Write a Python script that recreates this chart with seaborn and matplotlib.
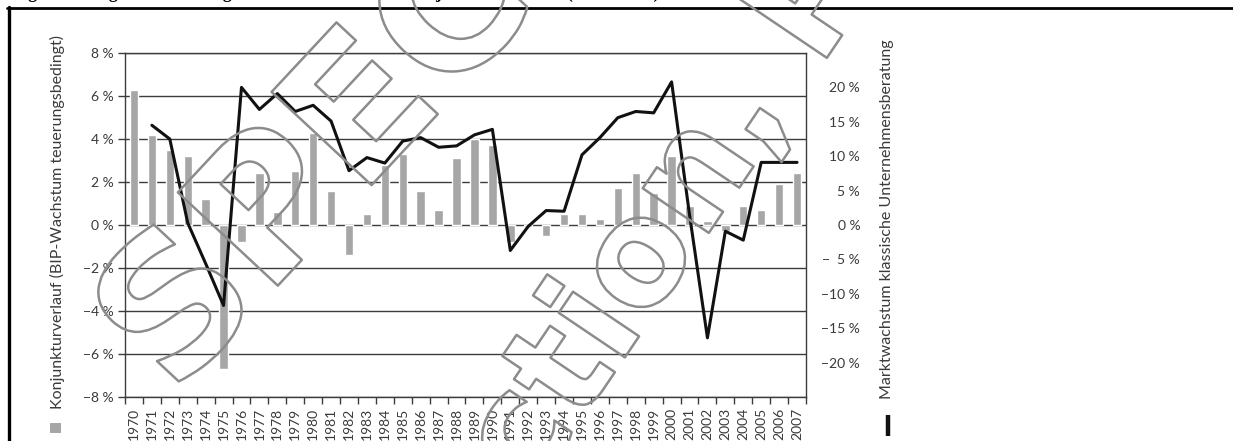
import numpy as np
import pandas as pd
import matplotlib
matplotlib.use("Agg")
import matplotlib.pyplot as plt
import seaborn as sns
from matplotlib import patheffects
from matplotlib.lines import Line2D
from matplotlib.patches import Rectangle

# --- data -----------------------------------------------------------------
years = list(range(1970, 2008))
gdp_growth = [6.3, 4.2, 3.5, 3.2, 1.2, -6.7, -0.8, 2.4, 0.6, 2.5,
              4.3, 1.6, -1.4, 0.5, 2.8, 3.3, 1.6, 0.7, 3.1, 4.0,
              3.7, -0.8, -0.1, -0.5, 0.5, 0.5, 0.3, 1.7, 2.4, 1.5,
              3.2, 0.9, 0.2, -0.3, 0.9, 0.7, 1.9, 2.4]

market_years = list(range(1971, 2008))
market_growth = [14.5, 12.5, 0.3, -5.6, -11.7, 20.0, 16.8, 19.1, 16.5, 17.4,
                 15.1, 7.9, 9.8, 9.0, 12.2, 12.7, 11.3, 11.5, 13.1, 13.9,
                 -3.7, -0.2, 2.1, 2.0, 10.2, 12.7, 15.6, 16.5, 16.3, 20.8,
                 1.5, -16.4, -0.9, -2.2, 9.1, 9.1, 9.1]

left_ticks = [-8, -6, -4, -2, 0, 2, 4, 6, 8]
left_labels = ["−8 %", "−6 %", "−4 %", "−2 %", "0 %", "2 %", "4 %", "6 %", "8 %"]
right_ticks = [-20, -15, -10, -5, 0, 5, 10, 15, 20]
right_labels = ["−20 %", "−15 %", "−10 %", "−  5 %", "0 %", "5 %", "10 %", "15 %", "20 %"]

title = "Figure 1: Gegenüberstellung Marktwachstum und Konjunktur Schweiz (1970–2007)"
left_title = "Konjunkturverlauf (BIP-Wachstum teuerungsbedingt)"
right_title = "Marktwachstum klassische Unternehmensberatung"

# --- style ----------------------------------------------------------------
sns.set_theme(style="white")
plt.rcParams["font.family"] = ["Lato", "DejaVu Sans"]
text_col = "#3a3a3a"
bar_col = "#a6a6a6"
grid_col = "#3c3c3c"

W, H = 1233, 441
fig = plt.figure(figsize=(W / 100, H / 100), dpi=100)
fig.patch.set_facecolor("white")

ax_l, ax_r, ax_t, ax_b = 125, 806, 53, 397
ax = fig.add_axes([ax_l / W, 1 - ax_b / H, (ax_r - ax_l) / W, (ax_b - ax_t) / H])

df_bar = pd.DataFrame({"year": [str(y) for y in years], "gdp": gdp_growth})
sns.barplot(data=df_bar, x="year", y="gdp", color=bar_col, saturation=1,
            width=0.47, ax=ax, zorder=2)

ax.set_ylim(-8, 8)
ax.set_xlim(-0.5, len(years) - 0.5)
ax.set_yticks(left_ticks)
ax.set_yticklabels(left_labels)
for y in left_ticks:
    ax.axhline(y, color=grid_col, lw=1.0, zorder=1)

ax.set_xticks(range(len(years)))
ax.set_xticklabels([str(y) for y in years], rotation=90)
ax.set_xticks(np.arange(-0.5, len(years)), minor=True)
ax.tick_params(axis="x", which="major", length=0, pad=8, labelsize=10,
               labelcolor=text_col)
ax.tick_params(axis="x", which="minor", length=5, width=1, color=grid_col,
               direction="out", bottom=True)
ax.tick_params(axis="y", which="major", length=5, width=1, color=grid_col,
               direction="out", pad=3, labelsize=10, labelcolor=text_col,
               left=True, right=True, labelright=False)
ax.set_xlabel("")
ax.set_ylabel("")
for side in ["left", "right", "bottom", "top"]:
    ax.spines[side].set_visible(True)
    ax.spines[side].set_color(grid_col)
    ax.spines[side].set_linewidth(1.0)

# market growth line on the secondary axis
ax2 = ax.twinx()
df_line = pd.DataFrame({"pos": [y - years[0] for y in market_years],
                        "growth": market_growth})
sns.lineplot(data=df_line, x="pos", y="growth", color="#111111", lw=2.2,
             ax=ax2, zorder=3)
ax2.set_ylim(-25, 25)
ax2.set_xlim(-0.5, len(years) - 0.5)
ax2.set_yticks(right_ticks)
ax2.set_yticklabels(right_labels)
ax2.tick_params(axis="y", length=0, pad=39, labelsize=10, labelcolor=text_col)
for lbl in ax2.get_yticklabels():
    lbl.set_horizontalalignment("right")
ax2.set_xlabel("")
ax2.set_ylabel("")
for side in ["left", "right", "bottom", "top"]:
    ax2.spines[side].set_visible(False)

# axis titles with their legend keys
fig.text(57 / W, 1 - 222 / H, left_title, rotation=90, ha="center", va="center",
         fontsize=11.5, color=text_col)
fig.add_artist(Rectangle((50 / W, 1 - 433 / H), 11 / W, 10 / H,
                         transform=fig.transFigure, facecolor=bar_col,
                         edgecolor="none"))
fig.text(887 / W, 1 - 219 / H, right_title, rotation=90, ha="center", va="center",
         fontsize=11.5, color=text_col)
fig.add_artist(Line2D([887.5 / W, 887.5 / W], [1 - 415 / H, 1 - 436 / H],
                      transform=fig.transFigure, color="#111111", lw=3.2,
                      solid_capstyle="butt"))

# frame and heading (heading sits just above the frame line)
fig.add_artist(Line2D([7 / W, 1.0], [1 - 8 / H, 1 - 8 / H],
                      transform=fig.transFigure, color="black", lw=2.0))
fig.add_artist(Line2D([8.5 / W, 8.5 / W], [0.0, 1 - 7 / H],
                      transform=fig.transFigure, color="black", lw=2.4))
fig.text(12 / W, 1 + 2 / H, title, ha="left", va="baseline", fontsize=13,
         fontweight="bold", family=["Liberation Serif", "DejaVu Serif"],
         color="black")

# outlined diagonal stamp across the chart
stamp_fx = [patheffects.withStroke(linewidth=1.8, foreground="#8c8c8c")]
fig.text(174 / W, 1 - 397 / H, "SPECIMEN", rotation=47, rotation_mode="anchor",
         ha="left", va="baseline", fontsize=135, fontweight="bold", color="none",
         family="DejaVu Sans", path_effects=stamp_fx, zorder=10)
fig.text(680 / W, 1 - 205 / H, "Production, Posting", rotation=56, ha="center",
         va="center", fontsize=105, fontweight="bold", color="none",
         family="DejaVu Sans", path_effects=stamp_fx, zorder=10)

fig.savefig("out.png", dpi=100, facecolor="white")
